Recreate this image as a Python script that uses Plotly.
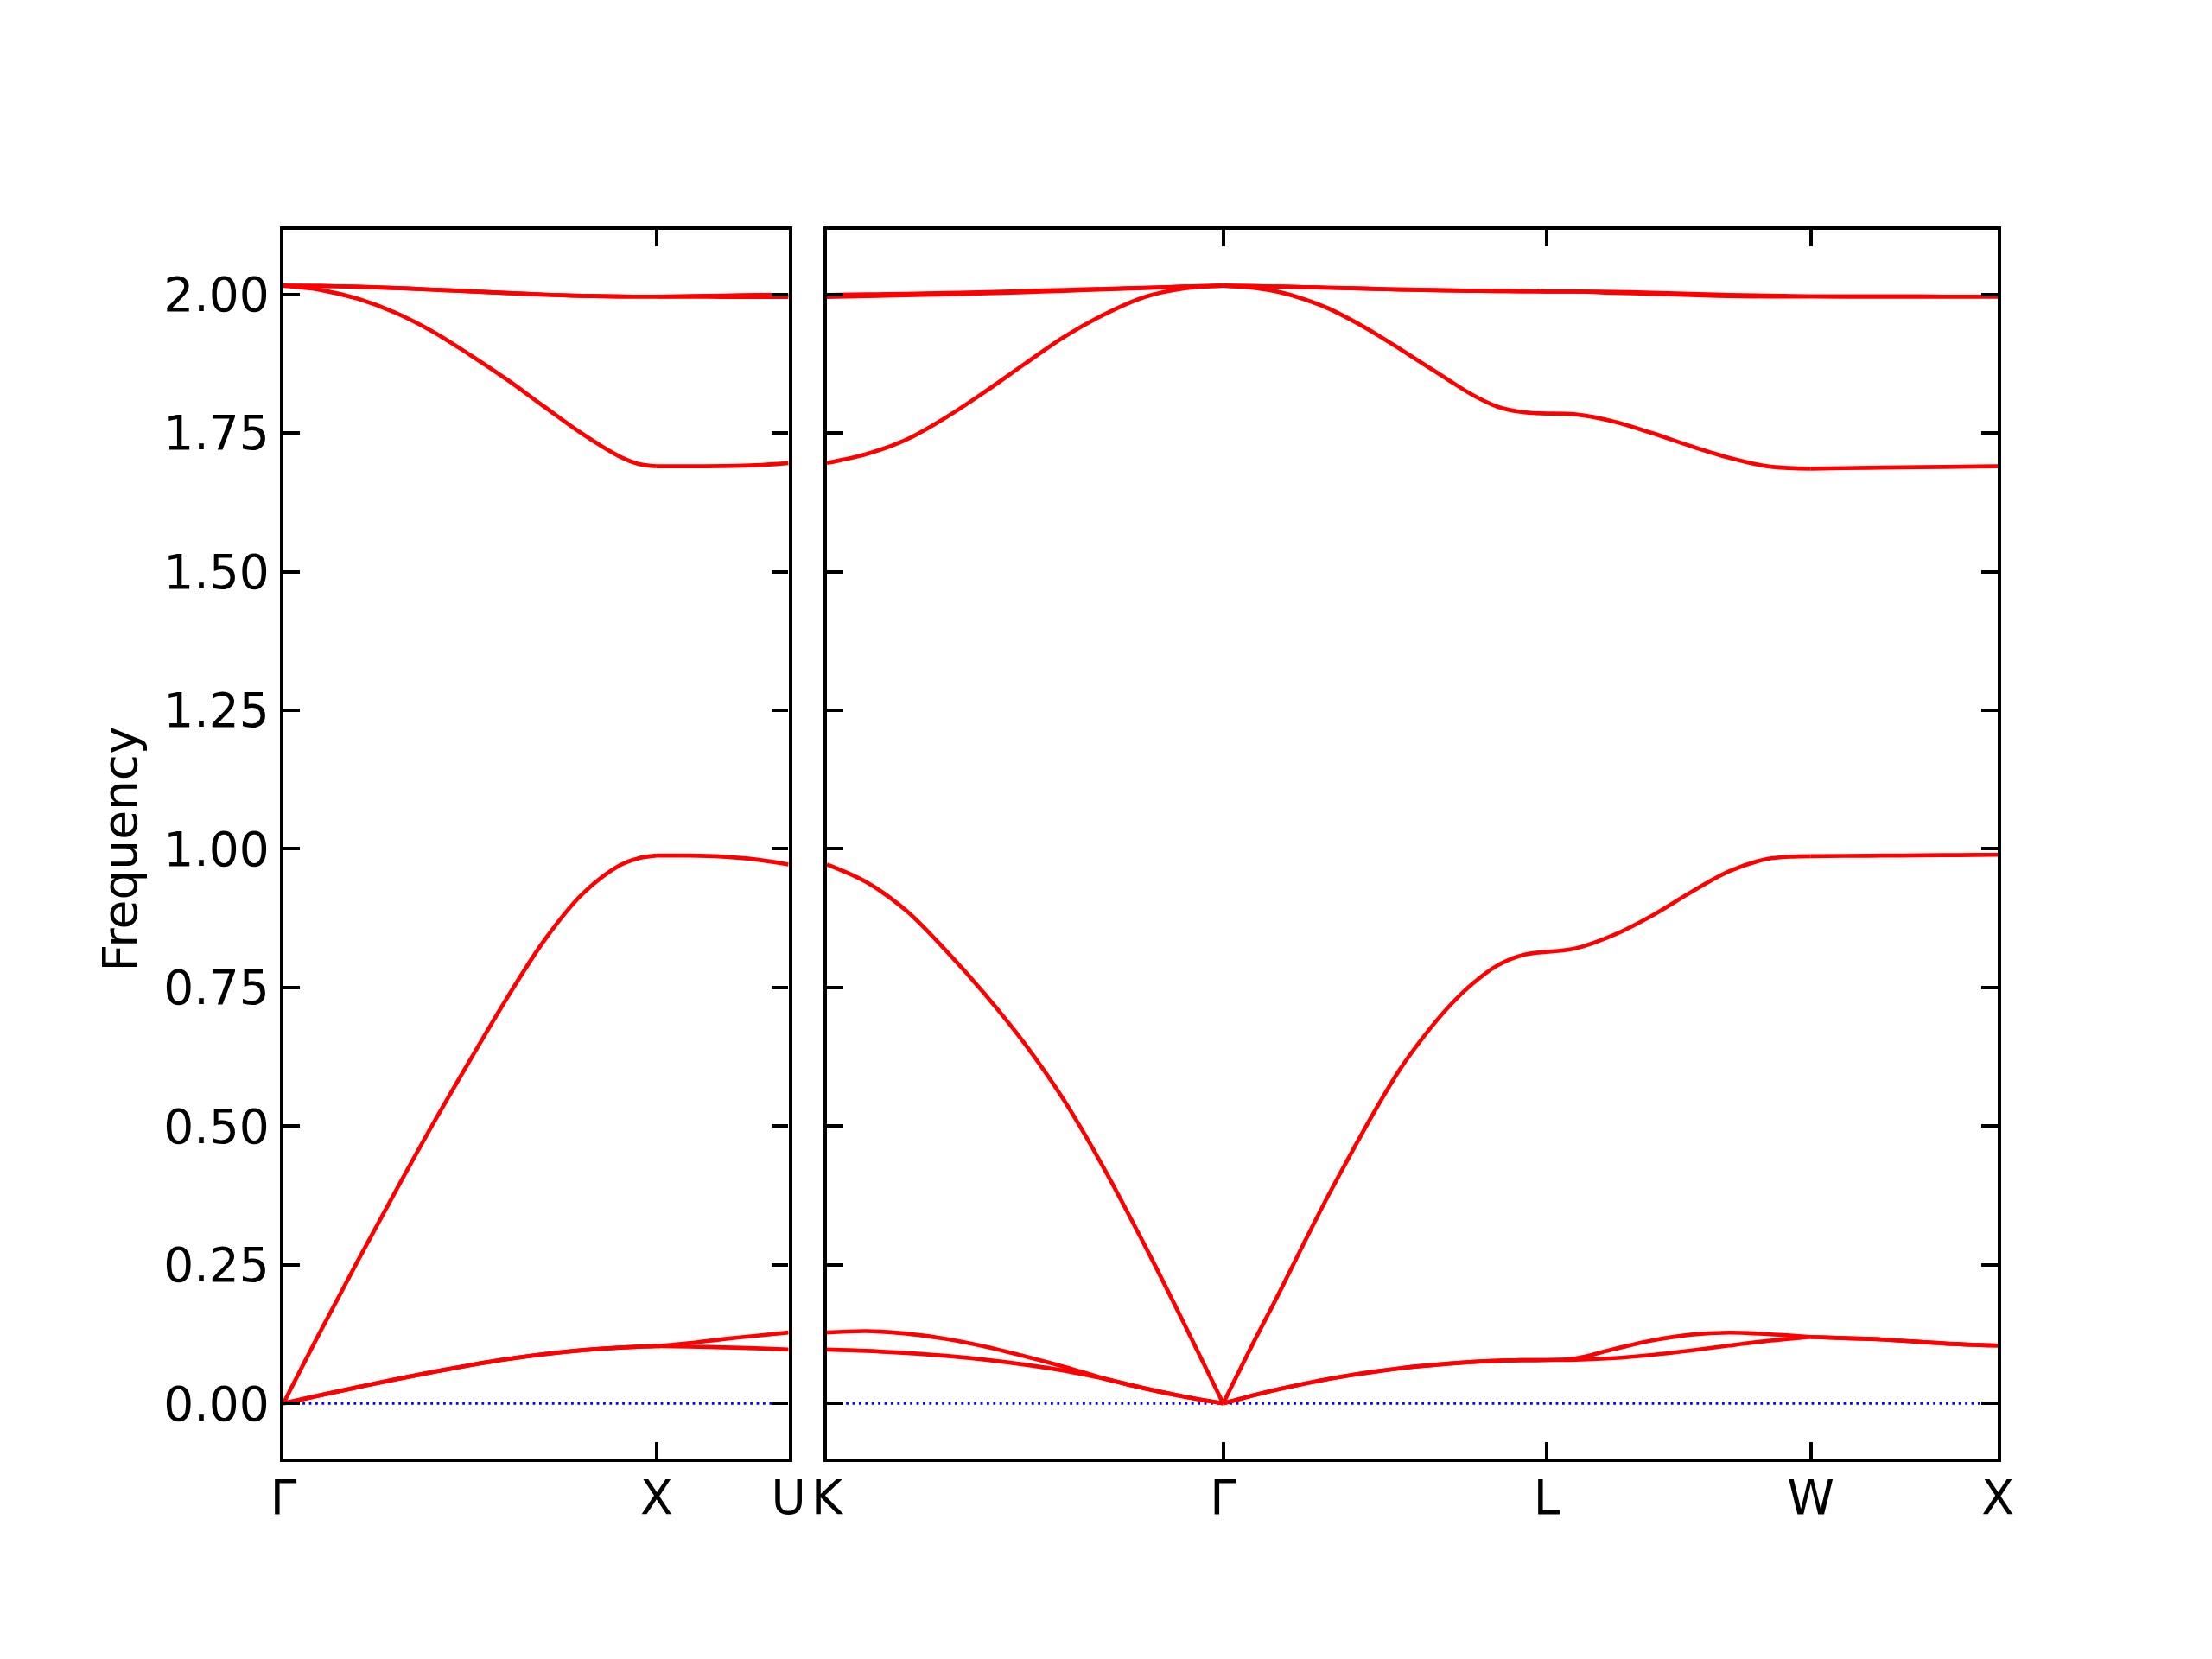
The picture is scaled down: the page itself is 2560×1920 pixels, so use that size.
import plotly.graph_objects as go

# ---- k-path (high-symmetry points, distances in 2pi/a) ----
left_labels = ["Γ", "X", "U"]
right_labels = ["K", "Γ", "L", "W", "X"]
left_ticks = [0.0, 1.0, 1.35355]
right_ticks = [1.35355, 2.41421, 3.28024, 3.98735, 4.48735]

# ---- band values (fraction along segment -> frequency) ----
# Gamma - X
GX_f = [0, 0.1, 0.2, 0.3, 0.4, 0.5, 0.6, 0.7, 0.8, 0.9, 0.95, 1.0]
GX_ta1 = [0, 0.0150, 0.0295, 0.0435, 0.0568, 0.0690, 0.0800, 0.0890, 0.0960, 0.1008, 0.1024, 0.1033]
GX_ta2 = [0, 0.0150, 0.0295, 0.0435, 0.0568, 0.0690, 0.0800, 0.0890, 0.0960, 0.1008, 0.1024, 0.1033]
GX_la = [0, 0.131, 0.258, 0.382, 0.503, 0.619, 0.732, 0.836, 0.918, 0.970, 0.983, 0.988]
GX_o1 = [2.0156, 2.008, 1.992, 1.967, 1.933, 1.891, 1.846, 1.797, 1.749, 1.708, 1.6945, 1.690]
GX_o2 = [2.0156, 2.0152, 2.0138, 2.0115, 2.0085, 2.0055, 2.0025, 1.9995, 1.9975, 1.9963, 1.996, 1.996]
GX_o3 = [2.0156, 2.0152, 2.0138, 2.0115, 2.0085, 2.0055, 2.0025, 1.9995, 1.9975, 1.9963, 1.996, 1.996]

# X - U
XU_f = [0, 0.25, 0.5, 0.75, 1.0]
XU_ta1 = [0.1033, 0.1025, 0.1012, 0.0995, 0.0972]
XU_ta2 = [0.1033, 0.109, 0.116, 0.122, 0.128]
XU_la = [0.988, 0.988, 0.986, 0.981, 0.972]
XU_o1 = [1.690, 1.690, 1.6905, 1.692, 1.696]
XU_o2 = [1.996, 1.9958, 1.9956, 1.9955, 1.9955]
XU_o3 = [1.996, 1.997, 1.998, 1.9988, 1.999]

# K - Gamma
KG_f = [0, 0.1, 0.2, 0.3, 0.4, 0.5, 0.6, 0.7, 0.8, 0.9, 1.0]
KG_ta1 = [0.0972, 0.0948, 0.091, 0.086, 0.079, 0.070, 0.059, 0.0445, 0.0275, 0.0125, 0]
KG_ta2 = [0.128, 0.1305, 0.126, 0.1165, 0.1025, 0.085, 0.066, 0.045, 0.0275, 0.0125, 0]
KG_la = [0.972, 0.940, 0.889, 0.817, 0.737, 0.648, 0.545, 0.423, 0.288, 0.146, 0]
KG_o1 = [1.696, 1.712, 1.738, 1.778, 1.825, 1.875, 1.924, 1.964, 1.995, 2.0105, 2.0156]
KG_o2 = [1.9955, 1.997, 1.9985, 2.0, 2.002, 2.004, 2.0065, 2.009, 2.0115, 2.014, 2.0156]
KG_o3 = [1.999, 2.0, 2.001, 2.0025, 2.004, 2.006, 2.008, 2.010, 2.012, 2.014, 2.0156]

# Gamma - L
GL_f = [0, 0.1, 0.175, 0.25, 0.324, 0.399, 0.474, 0.548, 0.623, 0.698, 0.773, 0.848, 0.922, 1.0]
GL_ta1 = [0, 0.0155, 0.026, 0.0355, 0.0440, 0.0515, 0.0580, 0.0635, 0.0680, 0.0720, 0.0750, 0.0770, 0.0780, 0.0783]
GL_ta2 = [0, 0.0155, 0.026, 0.0355, 0.0440, 0.0515, 0.0580, 0.0635, 0.0680, 0.0720, 0.0750, 0.0770, 0.0780, 0.0783]
GL_la = [0, 0.117, 0.2016, 0.2895, 0.374, 0.455, 0.533, 0.604, 0.664, 0.716, 0.758, 0.790, 0.808, 0.8145]
GL_o1 = [2.0156, 2.0115, 2.004, 1.9915, 1.975, 1.953, 1.928, 1.901, 1.873, 1.845, 1.818, 1.7975, 1.788, 1.785]
GL_o2 = [2.0156, 2.015, 2.014, 2.013, 2.012, 2.011, 2.0098, 2.0088, 2.008, 2.0072, 2.0065, 2.006, 2.0056, 2.0053]
GL_o3 = [2.0156, 2.015, 2.014, 2.013, 2.012, 2.011, 2.0098, 2.0088, 2.008, 2.0072, 2.0065, 2.006, 2.0056, 2.0053]

# L - W
LW_f = [0, 0.11, 0.255, 0.40, 0.545, 0.69, 0.835, 0.92, 1.0]
LW_ta1 = [0.0783, 0.0790, 0.0818, 0.0877, 0.0955, 0.1044, 0.1127, 0.1165, 0.12]
LW_ta2 = [0.0783, 0.0815, 0.0981, 0.1137, 0.124, 0.1278, 0.1251, 0.1225, 0.12]
LW_la = [0.8145, 0.8207, 0.845, 0.880, 0.9216, 0.9598, 0.982, 0.986, 0.987]
LW_o1 = [1.785, 1.7834, 1.7705, 1.7497, 1.7264, 1.7055, 1.690, 1.687, 1.6859]
LW_o2 = [2.0053, 2.005, 2.003, 2.001, 1.999, 1.997, 1.9962, 1.9963, 1.9964]
LW_o3 = [2.0053, 2.0052, 2.0045, 2.003, 2.001, 1.999, 1.998, 1.997, 1.9964]

# W - X
WX_f = [0, 0.177, 0.383, 0.588, 0.794, 1.0]
WX_ta1 = [0.12, 0.1178, 0.1153, 0.111, 0.1069, 0.1044]
WX_ta2 = [0.12, 0.1178, 0.1153, 0.111, 0.1069, 0.1044]
WX_la = [0.987, 0.9875, 0.988, 0.9885, 0.989, 0.9895]
WX_o1 = [1.6859, 1.6867, 1.6876, 1.6885, 1.6893, 1.690]
WX_o2 = [1.9964, 1.9963, 1.9962, 1.9961, 1.996, 1.996]
WX_o3 = [1.9964, 1.9963, 1.9962, 1.9961, 1.996, 1.996]

y_ticks = [0.0, 0.25, 0.5, 0.75, 1.0, 1.25, 1.5, 1.75, 2.0]
zero_line_y = [0.0, 0.0]

segments = [
    # (start, end, f, bands, panel)
    (left_ticks[0], left_ticks[1], GX_f, [GX_ta1, GX_ta2, GX_la, GX_o1, GX_o2, GX_o3], 1),
    (left_ticks[1], left_ticks[2], XU_f, [XU_ta1, XU_ta2, XU_la, XU_o1, XU_o2, XU_o3], 1),
    (right_ticks[0], right_ticks[1], KG_f, [KG_ta1, KG_ta2, KG_la, KG_o1, KG_o2, KG_o3], 2),
    (right_ticks[1], right_ticks[2], GL_f, [GL_ta1, GL_ta2, GL_la, GL_o1, GL_o2, GL_o3], 2),
    (right_ticks[2], right_ticks[3], LW_f, [LW_ta1, LW_ta2, LW_la, LW_o1, LW_o2, LW_o3], 2),
    (right_ticks[3], right_ticks[4], WX_f, [WX_ta1, WX_ta2, WX_la, WX_o1, WX_o2, WX_o3], 2),
]

RED = "#ff0000"
BLUE = "#0000ff"
FONT = "DejaVu Sans"
FS = 55

fig = go.Figure()

# zero reference lines
fig.add_trace(go.Scatter(x=[left_ticks[0], left_ticks[-1]], y=zero_line_y, mode="lines",
                         line=dict(color=BLUE, width=2.8, dash="2.8px,4.6px"),
                         xaxis="x", yaxis="y", showlegend=False, hoverinfo="skip"))
fig.add_trace(go.Scatter(x=[right_ticks[0], right_ticks[-1]], y=zero_line_y, mode="lines",
                         line=dict(color=BLUE, width=2.8, dash="2.8px,4.6px"),
                         xaxis="x2", yaxis="y2", showlegend=False, hoverinfo="skip"))

for start, end, fr, bands, panel in segments:
    xs = [start + f * (end - start) for f in fr]
    for b in bands:
        fig.add_trace(go.Scatter(
            x=xs, y=b, mode="lines",
            line=dict(color=RED, width=4.7, shape="spline", smoothing=1.0),
            xaxis="x" if panel == 1 else "x2",
            yaxis="y" if panel == 1 else "y2",
            showlegend=False, hoverinfo="skip"))

axis_common = dict(
    showline=True, linecolor="black", linewidth=4.4, mirror="allticks",
    ticks="inside", ticklen=19, tickwidth=4.4, tickcolor="black",
    showgrid=False, zeroline=False, automargin=False,
    tickfont=dict(family=FONT, size=FS, color="black"),
)

yr = [-0.0993, 2.1164]

fig.update_layout(
    width=2560, height=1920,
    margin=dict(l=0, r=0, t=0, b=0, autoexpand=False),
    paper_bgcolor="white", plot_bgcolor="white",
    showlegend=False,
    xaxis=dict(domain=[0.125, 0.35336], range=[left_ticks[0], left_ticks[-1]],
               tickmode="array", tickvals=left_ticks, ticktext=left_labels,
               anchor="y", ticklabelstandoff=-6, **axis_common),
    yaxis=dict(domain=[0.125, 0.865625], range=yr, tickmode="array",
               tickvals=y_ticks, ticktext=[f"{v:.2f}" for v in y_ticks],
               anchor="x", ticklabelstandoff=1, **axis_common),
    xaxis2=dict(domain=[0.3707, 0.9], range=[right_ticks[0], right_ticks[-1]],
                tickmode="array", tickvals=right_ticks, ticktext=right_labels,
                anchor="y2", ticklabelstandoff=-6, **axis_common),
    yaxis2=dict(domain=[0.125, 0.865625], range=yr, tickmode="array",
                tickvals=y_ticks, showticklabels=False, anchor="x2", **axis_common),
    annotations=[dict(text="Frequency", x=130.5 / 2560, y=1 - 975 / 1920,
                      xref="paper", yref="paper", showarrow=False, textangle=-90,
                      xanchor="center", yanchor="middle",
                      font=dict(family=FONT, size=FS, color="black"))],
)

fig.write_html("out.html")
